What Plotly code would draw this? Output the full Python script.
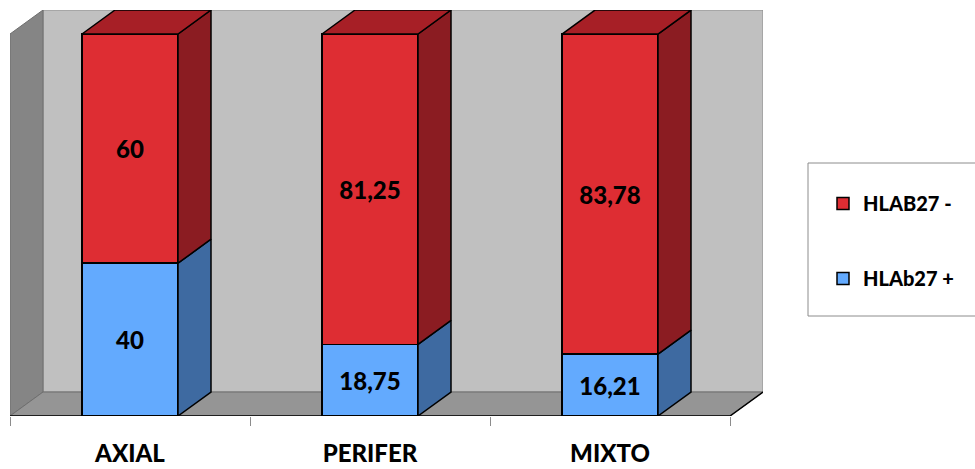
import plotly.graph_objects as go

categories = ["AXIAL", "PERIFER", "MIXTO"]
hla_pos = [40, 18.75, 16.21]      # HLAb27 +
hla_neg = [60, 81.25, 83.78]      # HLAB27 -
series_names = ["HLAb27 +", "HLAB27 -"]

# colours
BLUE_FRONT, BLUE_SIDE = "#63AAFE", "#3E6AA1"
RED_FRONT, RED_SIDE, RED_TOP = "#DE2D33", "#8B1C22", "#A71F26"

# layout geometry (pixels)
W, H = 975, 469
ML, MT, MB = 10, 10, 53
PX_PER_CAT = 240.0
BAR_W = 0.4
DX = 33 / PX_PER_CAT              # 3D depth offset in category units
YMAX = 100.0
PLOT_H = H - MT - MB
DY_PX = 24
PX_PER_Y = (PLOT_H - DY_PX) / YMAX
DY = DY_PX / PX_PER_Y
X0, X1 = -0.5, len(categories) - 0.5 + DX
MR = W - ML - int(round((X1 - X0) * PX_PER_CAT))
WEIGHT = 900

def fmt(v):
    return f"{v:g}".replace(".", ",")

x = list(range(len(categories)))
fig = go.Figure()

# 3D side / top faces derived from data
for i, c in enumerate(x):
    xl, xr = c - BAR_W / 2, c + BAR_W / 2
    segs = [(0, hla_pos[i], BLUE_SIDE), (hla_pos[i], hla_pos[i] + hla_neg[i], RED_SIDE)]
    for y0, y1, col in segs:
        fig.add_trace(go.Scatter(
            x=[xr, xr + DX, xr + DX, xr, xr],
            y=[y0, y0 + DY, y1 + DY, y1, y0],
            mode="lines", fill="toself", fillcolor=col,
            line=dict(color="black", width=1.5),
            hoverinfo="skip", showlegend=False))
    ytop = hla_pos[i] + hla_neg[i]
    fig.add_trace(go.Scatter(
        x=[xl, xl + DX, xr + DX, xr, xl],
        y=[ytop, ytop + DY, ytop + DY, ytop, ytop],
        mode="lines", fill="toself", fillcolor=RED_TOP,
        line=dict(color="black", width=1.5),
        hoverinfo="skip", showlegend=False))

LBL_FONT = dict(family="Lato", size=24, color="black", weight=WEIGHT)

# front faces
fig.add_trace(go.Bar(
    x=x, y=hla_pos, width=BAR_W, name=series_names[0],
    marker=dict(color=BLUE_FRONT, line=dict(color="black", width=1.5)),
    text=[fmt(v) for v in hla_pos], textposition="inside",
    insidetextanchor="middle", constraintext="none",
    textfont=LBL_FONT, legendgroup="a", legendrank=2))
fig.add_trace(go.Bar(
    x=x, y=hla_neg, width=BAR_W, name=series_names[1],
    marker=dict(color=RED_FRONT, line=dict(color="black", width=1.5)),
    text=[fmt(v) for v in hla_neg], textposition="inside",
    insidetextanchor="middle", constraintext="none",
    textfont=LBL_FONT, legendgroup="b", legendrank=1))

# walls and floor
n = len(categories)
shapes = [
    dict(type="rect", xref="x", yref="y", x0=X0 + DX, x1=n - 0.5 + DX, y0=DY, y1=YMAX + DY,
         fillcolor="#C0C0C0", line=dict(color="#8C8C8C", width=1), layer="below"),
    dict(type="path", xref="x", yref="y",
         path=f"M {X0},0 L {X0 + DX},{DY} L {X0 + DX},{YMAX + DY} L {X0},{YMAX} Z",
         fillcolor="#858585", line=dict(color="#6E6E6E", width=1), layer="below"),
    dict(type="path", xref="x", yref="y",
         path=f"M {X0},0 L {X0 + DX},{DY} L {n - 0.5 + DX},{DY} L {n - 0.5},0 Z",
         fillcolor="#959595", line=dict(color="#6E6E6E", width=1), layer="below"),
    dict(type="path", xref="x", yref="y",
         path=f"M {X0},0 L {n - 0.5},0 L {n - 0.5 + DX},{DY}",
         line=dict(color="black", width=1.5), layer="below"),
]

def px_to_paper_x(px):
    return (px - ML) / ((X1 - X0) * PX_PER_CAT)

def py_to_paper_y(py):
    return (H - MB - py) / PLOT_H

shapes.append(dict(type="rect", xref="paper", yref="paper",
                   x0=px_to_paper_x(808), x1=px_to_paper_x(990),
                   y0=py_to_paper_y(316), y1=py_to_paper_y(163),
                   fillcolor="white", line=dict(color="#8C8C8C", width=1), layer="below"))

fig.update_layout(
    width=W, height=H,
    margin=dict(l=ML, r=MR, t=MT, b=MB, autoexpand=False),
    paper_bgcolor="white", plot_bgcolor="rgba(0,0,0,0)",
    barmode="stack",
    shapes=shapes,
    showlegend=True,
    legend=dict(
        x=px_to_paper_x(823), xanchor="left",
        y=py_to_paper_y(184), yanchor="top",
        traceorder="grouped", tracegroupgap=46,
        bgcolor="rgba(0,0,0,0)", borderwidth=0,
        font=dict(family="Lato", size=20, color="black", weight=WEIGHT),
    ),
    xaxis=dict(range=[X0, X1], tickvals=x, ticktext=categories,
               showgrid=False, zeroline=False, showline=False, ticks="",
               ticklabelstandoff=21,
               tickfont=dict(family="Lato", size=24, color="black", weight=WEIGHT)),
    xaxis2=dict(range=[X0, X1], overlaying="x", side="bottom",
                tickvals=[i - 0.5 for i in range(n + 1)], ticks="outside", ticklen=9,
                tickcolor="#8C8C8C", tickwidth=1, showticklabels=False,
                showgrid=False, zeroline=False, showline=False),
    yaxis=dict(range=[0, YMAX + DY], visible=False),
)
fig.add_trace(go.Scatter(x=[X0], y=[0], xaxis="x2", mode="markers",
                         marker=dict(opacity=0), hoverinfo="skip", showlegend=False))

fig.write_html("out.html")
